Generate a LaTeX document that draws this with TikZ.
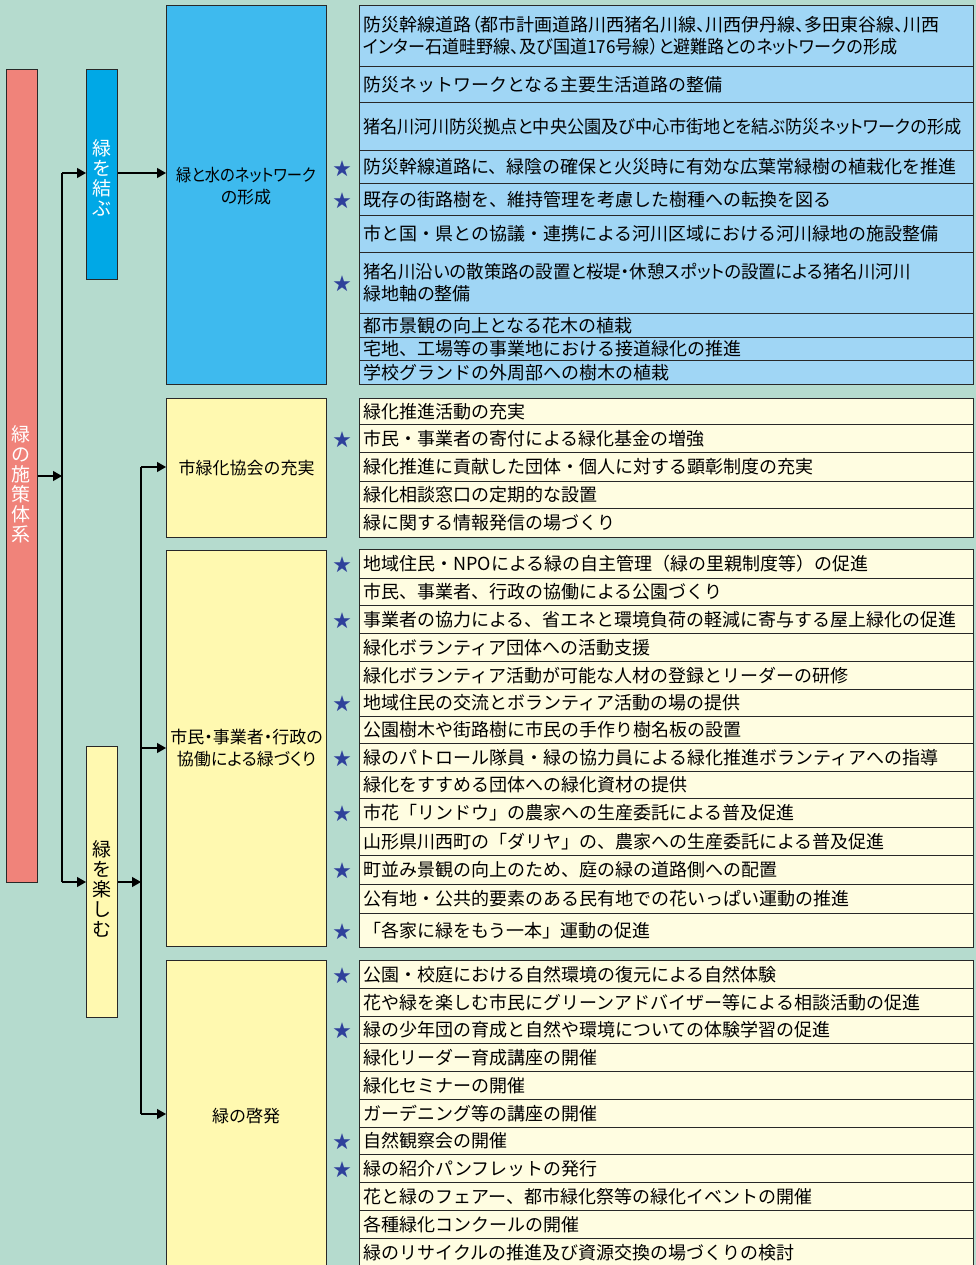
\documentclass[tikz,border=0pt]{standalone}
\usepackage{fontspec}
\setmainfont{Noto Sans CJK JP}
\newfontfamily\jpp[RawFeature=+palt]{Noto Sans CJK JP}
\usetikzlibrary{arrows.meta}
\definecolor{bgc}{RGB}{181,219,206}
\definecolor{redc}{RGB}{240,131,122}
\definecolor{blueA}{RGB}{0,168,230}
\definecolor{blueB}{RGB}{62,186,238}
\definecolor{blueC}{RGB}{160,214,245}
\definecolor{yelA}{RGB}{255,249,176}
\definecolor{yelB}{RGB}{255,253,225}
\definecolor{starc}{RGB}{46,64,155}
\definecolor{bord}{RGB}{40,40,40}
\tikzset{
  lbox/.style={draw=bord, line width=1pt, inner sep=0pt, anchor=north west},
  vtext/.style={align=center, inner sep=0pt, font=\fontsize{19pt}{20pt}\selectfont},
  ltext/.style={align=center, inner sep=0pt, font=\fontsize{17pt}{22pt}\selectfont},
  ltextp/.style={align=center, inner sep=0pt, font=\jpp\fontsize{17pt}{22pt}\selectfont},
  rowbox/.style={draw=bord, line width=0.9pt, minimum width=614pt, text width=606pt,
    align=left, inner xsep=4pt, inner ysep=0pt, anchor=north west,
    font=\fontsize{18pt}{22pt}\selectfont},
  starmark/.style={text=starc, inner sep=0pt, font=\fontsize{18pt}{18pt}\selectfont},
  conn/.style={draw=black, line width=1.2pt},
  arr/.style={draw=black, line width=1.2pt, -{Triangle[length=9pt,width=10pt]}}
}
\newcommand\trow[5]{\node[rowbox, fill=#4, minimum height=#3pt] (#1) at (359,#2) {#5};}
\newcommand\tstar[2]{\node[starmark] (#1) at (342,#2) {★};}
\newcommand\hsq[2]{\scalebox{#1}[1]{#2}}
\begin{document}
\begin{tikzpicture}[x=1pt,y=-1pt]
\useasboundingbox (0,0) rectangle (976,1265);
\fill[bgc] (0,0) rectangle (976,1265);

% left column boxes
\node[lbox, fill=redc, minimum width=31pt, minimum height=813pt] (sys) at (6,69) {};
\node[vtext, text=white] (systxt) at (21.5,484) {緑\\の\\施\\策\\体\\系};
\node[lbox, fill=blueA, minimum width=31pt, minimum height=210pt] (musubu) at (86,69) {};
\node[vtext, text=white] (musubutxt) at (101.5,178) {緑\\を\\結\\ぶ};
\node[lbox, fill=yelA, minimum width=31pt, minimum height=271pt] (tanoshimu) at (86,746) {};
\node[vtext] (tanoshimutxt) at (101.5,889) {緑\\を\\楽\\し\\む};

% middle boxes
\node[lbox, fill=blueB, minimum width=160pt, minimum height=379pt] (mizu) at (166,5) {};
\node[ltextp] (mizutxt) at (246,186) {\hsq{0.9}{緑と水のネットワーク}\\の形成};
\node[lbox, fill=yelA, minimum width=160pt, minimum height=139pt, ltext, anchor=north west] (kyokai) at (166,398) {市緑化協会の充実};
\node[lbox, fill=yelA, minimum width=160pt, minimum height=396pt, ltextp, anchor=north west] (kyodo) at (166,550) {市民・事業者・行政の\\協働による緑づくり};
\node[lbox, fill=yelA, minimum width=160pt, minimum height=320pt] (keihatsu) at (166,960) {};
\node[ltext] (keihatsutxt) at (246,1116) {緑の啓発};

% connectors
\coordinate (t0) at (62,476);
\coordinate (t1) at (62,173);
\coordinate (t2) at (62,882);
\draw[conn] (t1) -- (t2);
\draw[arr] (sys.east |- t0) -- (t0);
\draw[arr] (t1) -- (musubu.west |- t1);
\draw[arr] (t2) -- (tanoshimu.west |- t2);
\draw[arr] (musubu.east |- t1) -- (mizu.west |- t1);
\coordinate (u0) at (141,882);
\coordinate (u1) at (141,467);
\coordinate (u2) at (141,748);
\coordinate (u3) at (141,1114);
\draw[arr] (tanoshimu.east |- u0) -- (u0);
\draw[conn] (u1) -- (u3);
\draw[arr] (u1) -- (kyokai.west |- u1);
\draw[arr] (u2) -- (kyodo.west |- u2);
\draw[arr] (u3) -- (keihatsu.west |- u3);

% blue table
\trow{b1}{5}{61}{blueC}{\jpp 防災幹線道路（都市計画道路川西猪名川線、川西伊丹線、多田東谷線、川西\\\hsq{0.95}{インター石道畦野線、及び国道176号線）と避難路とのネットワークの形成}}
\trow{b2}{66}{36}{blueC}{防災ネットワークとなる主要生活道路の整備}
\trow{b3}{102}{48}{blueC}{\jpp\hsq{0.953}{猪名川河川防災拠点と中央公園及び中心市街地とを結ぶ防災ネットワークの形成}}
\trow{b4}{150}{33}{blueC}{防災幹線道路に、緑陰の確保と火災時に有効な広葉常緑樹の植栽化を推進}
\trow{b5}{183}{32}{blueC}{既存の街路樹を、維持管理を考慮した樹種への転換を図る}
\trow{b6}{215}{37}{blueC}{市と国・県との協議・連携による河川区域における河川緑地の施設整備}
\trow{b7}{252}{61}{blueC}{\jpp\hsq{0.97}{猪名川沿いの散策路の設置と桜堤・休憩スポットの設置による猪名川河川}\\緑地軸の整備}
\trow{b8}{313}{24}{blueC}{都市景観の向上となる花木の植栽}
\trow{b9}{337}{23}{blueC}{宅地、工場等の事業地における接道緑化の推進}
\trow{b10}{360}{24}{blueC}{学校グランドの外周部への樹木の植栽}
\tstar{sb4}{168.5}
\tstar{sb5}{200.5}
\tstar{sb7}{284}

% yellow table 1
\trow{p1}{398}{26}{yelB}{緑化推進活動の充実}
\trow{p2}{424}{28}{yelB}{市民・事業者の寄付による緑化基金の増強}
\trow{p3}{452}{29}{yelB}{緑化推進に貢献した団体・個人に対する顕彰制度の充実}
\trow{p4}{481}{27}{yelB}{緑化相談窓口の定期的な設置}
\trow{p5}{508}{29}{yelB}{緑に関する情報発信の場づくり}
\tstar{sp2}{439.5}

% yellow table 2
\trow{q1}{549}{29}{yelB}{地域住民・NPOによる緑の自主管理（緑の里親制度等）の促進}
\trow{q2}{578}{27}{yelB}{市民、事業者、行政の協働による公園づくり}
\trow{q3}{605}{28}{yelB}{事業者の協力による、省エネと環境負荷の軽減に寄与する屋上緑化の促進}
\trow{q4}{633}{28}{yelB}{緑化ボランティア団体への活動支援}
\trow{q5}{661}{28}{yelB}{緑化ボランティア活動が可能な人材の登録とリーダーの研修}
\trow{q6}{689}{27}{yelB}{地域住民の交流とボランティア活動の場の提供}
\trow{q7}{716}{27}{yelB}{公園樹木や街路樹に市民の手作り樹名板の設置}
\trow{q8}{743}{28}{yelB}{緑のパトロール隊員・緑の協力員による緑化推進ボランティアへの指導}
\trow{q9}{771}{27}{yelB}{緑化をすすめる団体への緑化資材の提供}
\trow{q10}{798}{29}{yelB}{市花「リンドウ」の農家への生産委託による普及促進}
\trow{q11}{827}{28}{yelB}{山形県川西町の「ダリヤ」の、農家への生産委託による普及促進}
\trow{q12}{855}{29}{yelB}{町並み景観の向上のため、庭の緑の道路側への配置}
\trow{q13}{884}{29}{yelB}{公有地・公共的要素のある民有地での花いっぱい運動の推進}
\trow{q14}{913}{34}{yelB}{「各家に緑をもう一本」運動の促進}
\tstar{sq1}{565}
\tstar{sq3}{620.5}
\tstar{sq6}{704}
\tstar{sq8}{758.5}
\tstar{sq10}{814}
\tstar{sq12}{871}
\tstar{sq14}{931.5}

% yellow table 3
\trow{r1}{960}{28}{yelB}{公園・校庭における自然環境の復元による自然体験}
\trow{r2}{988}{28}{yelB}{花や緑を楽しむ市民にグリーンアドバイザー等による相談活動の促進}
\trow{r3}{1016}{27}{yelB}{緑の少年団の育成と自然や環境についての体験学習の促進}
\trow{r4}{1043}{28}{yelB}{緑化リーダー育成講座の開催}
\trow{r5}{1071}{28}{yelB}{緑化セミナーの開催}
\trow{r6}{1099}{28}{yelB}{ガーデニング等の講座の開催}
\trow{r7}{1127}{27}{yelB}{自然観察会の開催}
\trow{r8}{1154}{28}{yelB}{緑の紹介パンフレットの発行}
\trow{r9}{1182}{28}{yelB}{花と緑のフェアー、都市緑化祭等の緑化イベントの開催}
\trow{r10}{1210}{28}{yelB}{各種緑化コンクールの開催}
\trow{r11}{1238}{29}{yelB}{緑のリサイクルの推進及び資源交換の場づくりの検討}
\tstar{sr1}{975.5}
\tstar{sr3}{1031}
\tstar{sr7}{1142}
\tstar{sr8}{1169.5}
\end{tikzpicture}
\end{document}
